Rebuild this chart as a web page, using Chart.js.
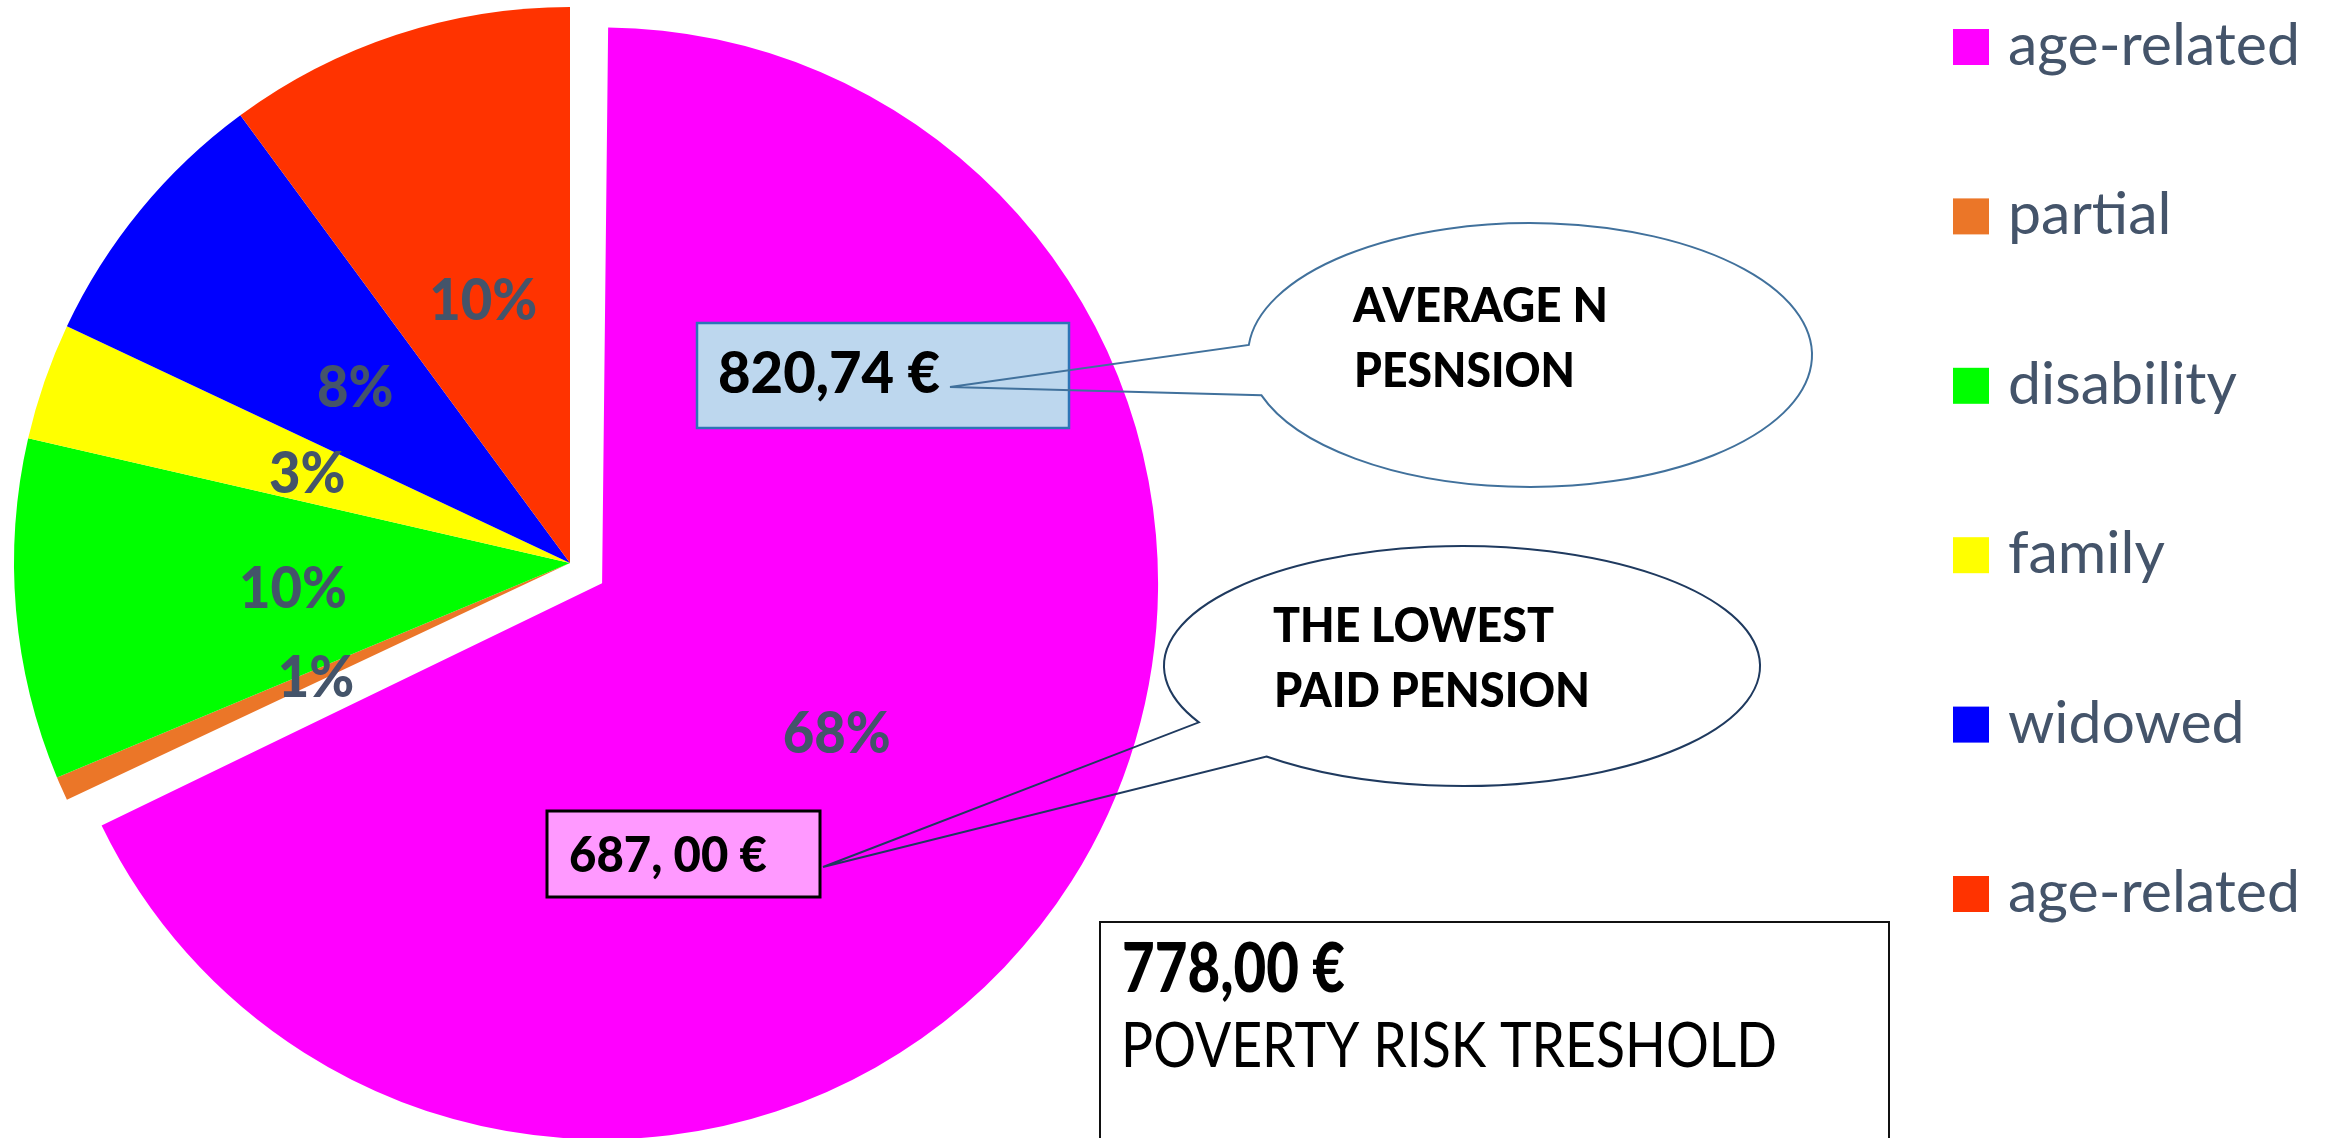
<!DOCTYPE html>
<html>
<head>
<meta charset="utf-8">
<title>Pensions by type</title>
<script src="https://cdn.jsdelivr.net/npm/chart.js@4.4.1/dist/chart.umd.min.js"></script>
<style>
  html, body { margin: 0; padding: 0; background: #fff; }
  canvas { display: block; }
</style>
</head>
<body>
<canvas id="pensionChart" width="2336" height="1138"></canvas>
<script>
// share of pensions by type (%)
const categories = ["age-related", "partial", "disability", "family", "widowed", "age-related"];
const shares = [68, 0.7, 9.9, 3.4, 7.9, 10.1];
const colors = ["#FF00FF", "#EB7628", "#00FF00", "#FFFF00", "#0000FF", "#FF3300"];

// amounts shown in the callouts
const averagePension = "820,74 €";
const averageCaption = ["AVERAGE N", "PESNSION"];
const lowestPension = "687, 00 €";
const lowestCaption = ["THE LOWEST", "PAID PENSION"];
const povertyAmount = "778,00 €";
const povertyCaption = "POVERTY RISK TRESHOLD";

const FONT = "Lato, 'Open Sans', sans-serif";
const HEAVY = "900";
const SLATE = "#44546A";
const RADIUS = 556;
const EXPLODE = 38; // how far the big slice is pulled out

// text squeezed to the width it has in the original (Calibri is narrow)
function drawText(ctx, s, x, y, font, color, width) {
  ctx.font = font;
  ctx.fillStyle = color;
  ctx.fillText(s, x, y, width);
}

function bubble(ctx, cx, cy, rx, ry, fromDeg, toDeg, tipX, tipY, color) {
  ctx.beginPath();
  ctx.ellipse(cx, cy, rx, ry, 0, fromDeg * Math.PI / 180, toDeg * Math.PI / 180);
  ctx.lineTo(tipX, tipY);
  ctx.closePath();
  ctx.lineWidth = 2;
  ctx.strokeStyle = color;
  ctx.stroke();
}

const sliceLabels = {
  id: "sliceLabels",
  afterDatasetUpdate(chart, args) {
    // a pulled-out slice wider than 180deg gets a bigger radius in v4, undo it
    args.meta.data.forEach((arc) => {
      if (arc.options && arc.options.offset && arc.circumference >= Math.PI) {
        arc.outerRadius -= EXPLODE;
      }
    });
  },
  afterDatasetsDraw(chart) {
    const ctx = chart.ctx;
    const meta = chart.getDatasetMeta(0);
    const total = shares.reduce((a, b) => a + b, 0);
    ctx.save();
    ctx.font = `${HEAVY} 58px ${FONT}`;
    ctx.fillStyle = SLATE;
    ctx.textAlign = "center";
    const squeeze = Math.min(1, 108 / ctx.measureText("68%").width);
    meta.data.forEach((arc, i) => {
      const mid = (arc.startAngle + arc.endAngle) / 2;
      const r = RADIUS / 2 + (i === 0 ? EXPLODE : 0);
      const x = arc.x + Math.cos(mid) * r;
      const y = arc.y + Math.sin(mid) * r;
      const label = Math.round(shares[i] / total * 100) + "%";
      ctx.fillText(label, x, y + 21, ctx.measureText(label).width * squeeze);
    });
    ctx.restore();
  }
};

const annotations = {
  id: "annotations",
  afterDraw(chart) {
    const ctx = chart.ctx;
    ctx.save();

    // average pension
    ctx.fillStyle = "#BDD7EE";
    ctx.fillRect(697, 323, 372, 105);
    ctx.lineWidth = 2.5;
    ctx.strokeStyle = "#2E75B6";
    ctx.strokeRect(697, 323, 372, 105);
    drawText(ctx, averagePension, 718, 393, `${HEAVY} 57px ${FONT}`, "#000", 222);
    bubble(ctx, 1530, 355, 282, 132, 184.4, 162.2, 950, 387, "#41719C");
    drawText(ctx, averageCaption[0], 1353, 322, `${HEAVY} 47px ${FONT}`, "#000", 255);
    drawText(ctx, averageCaption[1], 1354, 387, `${HEAVY} 47px ${FONT}`, "#000", 221);

    // lowest pension
    ctx.fillStyle = "#FF99FF";
    ctx.fillRect(547, 811, 273, 86);
    ctx.lineWidth = 3;
    ctx.strokeStyle = "#000";
    ctx.strokeRect(547, 811, 273, 86);
    drawText(ctx, lowestPension, 569, 872, `${HEAVY} 49px ${FONT}`, "#000", 198);
    bubble(ctx, 1462, 666, 298, 120, 152, 131, 823, 867, "#1F3A5F");
    drawText(ctx, lowestCaption[0], 1273, 642, `${HEAVY} 47px ${FONT}`, "#000", 281);
    drawText(ctx, lowestCaption[1], 1274, 707, `${HEAVY} 47px ${FONT}`, "#000", 316);

    // poverty threshold
    ctx.fillStyle = "#fff";
    ctx.fillRect(1100, 922, 789, 300);
    ctx.lineWidth = 2;
    ctx.strokeStyle = "#111";
    ctx.strokeRect(1100, 922, 789, 300);
    drawText(ctx, povertyAmount, 1122, 992, `${HEAVY} 69px ${FONT}`, "#000", 223);
    drawText(ctx, povertyCaption, 1121, 1067, `61px ${FONT}`, "#000", 656);

    // legend
    ctx.font = `59px ${FONT}`;
    const k = Math.min(1, 292 / ctx.measureText("age-related").width);
    chart.data.labels.forEach((name, i) => {
      const cy = 47 + i * 169.4;
      ctx.fillStyle = chart.data.datasets[0].backgroundColor[i];
      ctx.fillRect(1953, cy - 18, 36, 36);
      ctx.fillStyle = SLATE;
      ctx.fillText(name, 2008, cy + 18, ctx.measureText(name).width * k);
    });

    ctx.restore();
  }
};

new Chart(document.getElementById("pensionChart"), {
  type: "pie",
  data: {
    labels: categories,
    datasets: [
      {
        data: shares,
        backgroundColor: colors,
        borderWidth: 0,
        radius: RADIUS,
        // v4 moves the slice by offset / 4
        offset: [EXPLODE * 4, 0, 0, 0, 0, 0]
      }
    ]
  },
  options: {
    responsive: false,
    animation: false,
    devicePixelRatio: 1,
    events: [],
    layout: {
      padding: { left: 0, top: 0, right: 1196, bottom: 12 }
    },
    plugins: {
      legend: { display: false },
      tooltip: { enabled: false }
    }
  },
  plugins: [sliceLabels, annotations]
});
</script>
</body>
</html>
